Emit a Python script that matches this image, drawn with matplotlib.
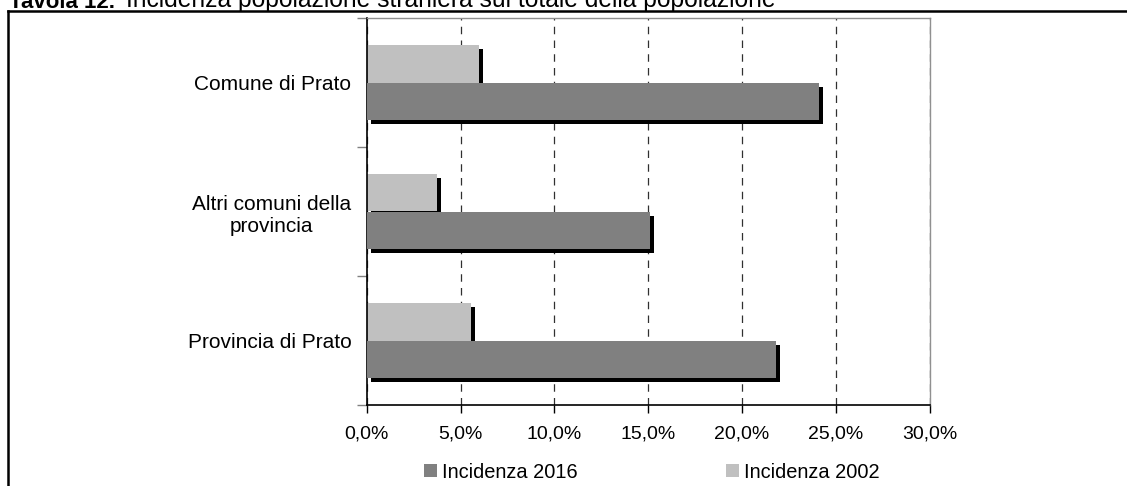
import matplotlib.pyplot as plt
import matplotlib.patheffects as pe
from matplotlib.lines import Line2D
from matplotlib.patches import Patch
from matplotlib.ticker import FuncFormatter, FixedLocator

# incidenza della popolazione straniera (%)
territori = ['Comune di Prato', 'Altri comuni della\nprovincia', 'Provincia di Prato']
inc_2016 = [24.1, 15.1, 21.8]
inc_2002 = [6.0, 3.75, 5.55]
serie = ['Incidenza 2016', 'Incidenza 2002']

C_2016 = '#808080'
C_2002 = '#c0c0c0'

plt.rcParams['font.family'] = ['Liberation Sans', 'DejaVu Sans']
plt.rcParams['font.size'] = 14

W, H = 1127, 486
fig = plt.figure(figsize=(W / 100, H / 100), dpi=100)
ax = fig.add_axes([366.7 / W, 1 - 405 / H, (929.5 - 366.7) / W, (405 - 18) / H])

h = 0.29
pos = list(range(len(territori)))
shadow = [pe.withSimplePatchShadow(offset=(3, -3), shadow_rgbFace='black', alpha=1.0),
          pe.Normal()]
ax.barh([p - h / 2 for p in pos], inc_2002, height=h, color=C_2002,
        path_effects=shadow, zorder=2)
ax.barh([p + h / 2 for p in pos], inc_2016, height=h, color=C_2016,
        path_effects=shadow, zorder=3)

ax.set_xlim(0, 30)
ax.set_ylim(len(territori) - 0.5, -0.5)
ax.set_xticks(range(0, 31, 5))
ax.xaxis.set_major_formatter(FuncFormatter(lambda v, _: f'{v:.1f}%'.replace('.', ',')))
ax.tick_params(axis='x', direction='out', length=6, width=1, color='black', pad=9)

# tacche ai confini delle categorie, etichette al centro
ax.yaxis.set_major_locator(FixedLocator([i - 0.5 for i in range(len(territori) + 1)]))
ax.yaxis.set_major_formatter(FuncFormatter(lambda v, _: ''))
ax.yaxis.set_minor_locator(FixedLocator(pos))
ax.set_yticklabels(territori, minor=True, ha='right', multialignment='center', fontsize=15)
ax.tick_params(axis='y', which='major', direction='out', length=7, width=1, color='#808080')
ax.tick_params(axis='y', which='minor', length=0, pad=11)

ax.grid(axis='x', color='#303030', linestyle=(0, (6, 5)), linewidth=0.9)
ax.set_axisbelow(True)
for s in ('left', 'bottom'):
    ax.spines[s].set_color('black')
    ax.spines[s].set_linewidth(1.2)
for s in ('top', 'right'):
    ax.spines[s].set_color('#909090')
    ax.spines[s].set_linewidth(1.0)

handles = [Patch(facecolor=C_2016), Patch(facecolor=C_2002)]
fig.legend(handles, serie, loc='center left', bbox_to_anchor=(424 / W, 1 - 472 / H),
           ncol=2, frameon=False, borderpad=0, borderaxespad=0, fontsize=14.4,
           handlelength=0.65, handleheight=0.6, handletextpad=0.27,
           columnspacing=7.4)

# cornice esterna
fig.add_artist(Line2D([8 / W, 8 / W], [0, 1 - 11 / H], color='black', lw=1.8))
fig.add_artist(Line2D([8 / W, 1], [1 - 11 / H, 1 - 11 / H], color='black', lw=1.8))

# titolo (tagliato in alto)
fig.text(9 / W, 1 - 7.5 / H, 'Tavola 12.', fontweight='bold', va='baseline', fontsize=16)
fig.text(126 / W, 1 - 7.5 / H,
         'Incidenza popolazione straniera sul totale della popolazione',
         va='baseline', fontsize=17.7)

fig.savefig('out.png', dpi=100)
